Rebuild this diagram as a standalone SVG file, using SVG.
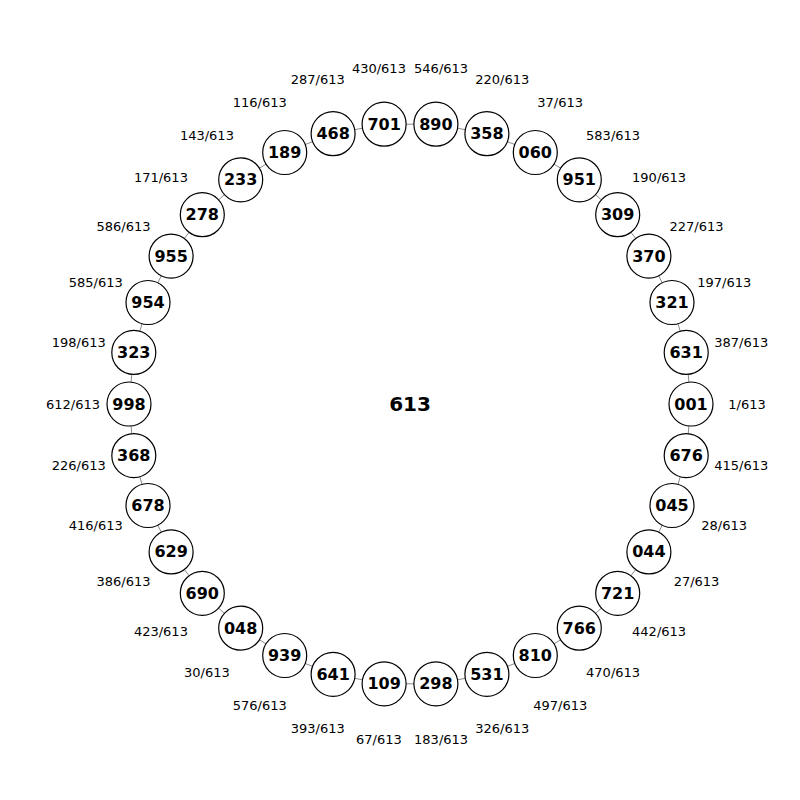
<svg xmlns="http://www.w3.org/2000/svg" width="800" height="800" viewBox="0 0 800 800">
<style>
.n circle{fill:#fff;stroke:#000;stroke-width:1.2}
.n text{font-family:"DejaVu Sans",sans-serif;font-weight:bold;font-size:16px;text-anchor:middle;dominant-baseline:central;fill:#000}
.lb{font-family:"DejaVu Sans",sans-serif;font-size:13px;text-anchor:middle;dominant-baseline:central;fill:#000}
.ctr{font-family:"DejaVu Sans",sans-serif;font-weight:bold;font-size:20px;text-anchor:middle;dominant-baseline:central;fill:#000}
.edge{fill:none;stroke:#888;stroke-width:1}
</style>
<rect width="800" height="800" fill="#fff"/>
<g id="connectors">
<polygon class="edge" points="691,404 686.2,455.6 672,505.5 648.9,551.9 617.7,593.3 579.3,628.2 535.3,655.5 486.9,674.3 435.9,683.8 384.1,683.8 333.1,674.3 284.7,655.5 240.7,628.2 202.3,593.3 171.1,551.9 148,505.5 133.8,455.6 129,404 133.8,352.4 148,302.5 171.1,256.1 202.3,214.7 240.7,179.8 284.7,152.5 333.1,133.7 384.1,124.2 435.9,124.2 486.9,133.7 535.3,152.5 579.3,179.8 617.7,214.7 648.9,256.1 672,302.5 686.2,352.4"/>
</g>
<g id="n001" class="n"><circle cx="691" cy="404" r="22"/><text x="691" y="404">001</text></g>
<g id="n676" class="n"><circle cx="686.2" cy="455.6" r="22"/><text x="686.2" y="455.6">676</text></g>
<g id="n045" class="n"><circle cx="672" cy="505.5" r="22"/><text x="672" y="505.5">045</text></g>
<g id="n044" class="n"><circle cx="648.9" cy="551.9" r="22"/><text x="648.9" y="551.9">044</text></g>
<g id="n721" class="n"><circle cx="617.7" cy="593.3" r="22"/><text x="617.7" y="593.3">721</text></g>
<g id="n766" class="n"><circle cx="579.3" cy="628.2" r="22"/><text x="579.3" y="628.2">766</text></g>
<g id="n810" class="n"><circle cx="535.3" cy="655.5" r="22"/><text x="535.3" y="655.5">810</text></g>
<g id="n531" class="n"><circle cx="486.9" cy="674.3" r="22"/><text x="486.9" y="674.3">531</text></g>
<g id="n298" class="n"><circle cx="435.9" cy="683.8" r="22"/><text x="435.9" y="683.8">298</text></g>
<g id="n109" class="n"><circle cx="384.1" cy="683.8" r="22"/><text x="384.1" y="683.8">109</text></g>
<g id="n641" class="n"><circle cx="333.1" cy="674.3" r="22"/><text x="333.1" y="674.3">641</text></g>
<g id="n939" class="n"><circle cx="284.7" cy="655.5" r="22"/><text x="284.7" y="655.5">939</text></g>
<g id="n048" class="n"><circle cx="240.7" cy="628.2" r="22"/><text x="240.7" y="628.2">048</text></g>
<g id="n690" class="n"><circle cx="202.3" cy="593.3" r="22"/><text x="202.3" y="593.3">690</text></g>
<g id="n629" class="n"><circle cx="171.1" cy="551.9" r="22"/><text x="171.1" y="551.9">629</text></g>
<g id="n678" class="n"><circle cx="148" cy="505.5" r="22"/><text x="148" y="505.5">678</text></g>
<g id="n368" class="n"><circle cx="133.8" cy="455.6" r="22"/><text x="133.8" y="455.6">368</text></g>
<g id="n998" class="n"><circle cx="129" cy="404" r="22"/><text x="129" y="404">998</text></g>
<g id="n323" class="n"><circle cx="133.8" cy="352.4" r="22"/><text x="133.8" y="352.4">323</text></g>
<g id="n954" class="n"><circle cx="148" cy="302.5" r="22"/><text x="148" y="302.5">954</text></g>
<g id="n955" class="n"><circle cx="171.1" cy="256.1" r="22"/><text x="171.1" y="256.1">955</text></g>
<g id="n278" class="n"><circle cx="202.3" cy="214.7" r="22"/><text x="202.3" y="214.7">278</text></g>
<g id="n233" class="n"><circle cx="240.7" cy="179.8" r="22"/><text x="240.7" y="179.8">233</text></g>
<g id="n189" class="n"><circle cx="284.7" cy="152.5" r="22"/><text x="284.7" y="152.5">189</text></g>
<g id="n468" class="n"><circle cx="333.1" cy="133.7" r="22"/><text x="333.1" y="133.7">468</text></g>
<g id="n701" class="n"><circle cx="384.1" cy="124.2" r="22"/><text x="384.1" y="124.2">701</text></g>
<g id="n890" class="n"><circle cx="435.9" cy="124.2" r="22"/><text x="435.9" y="124.2">890</text></g>
<g id="n358" class="n"><circle cx="486.9" cy="133.7" r="22"/><text x="486.9" y="133.7">358</text></g>
<g id="n060" class="n"><circle cx="535.3" cy="152.5" r="22"/><text x="535.3" y="152.5">060</text></g>
<g id="n951" class="n"><circle cx="579.3" cy="179.8" r="22"/><text x="579.3" y="179.8">951</text></g>
<g id="n309" class="n"><circle cx="617.7" cy="214.7" r="22"/><text x="617.7" y="214.7">309</text></g>
<g id="n370" class="n"><circle cx="648.9" cy="256.1" r="22"/><text x="648.9" y="256.1">370</text></g>
<g id="n321" class="n"><circle cx="672" cy="302.5" r="22"/><text x="672" y="302.5">321</text></g>
<g id="n631" class="n"><circle cx="686.2" cy="352.4" r="22"/><text x="686.2" y="352.4">631</text></g>
<g id="labels">
<text class="lb" x="747" y="404">1/613</text>
<text class="lb" x="741.3" y="465.9">415/613</text>
<text class="lb" x="724.2" y="525.7">28/613</text>
<text class="lb" x="696.5" y="581.4">27/613</text>
<text class="lb" x="659.1" y="631">442/613</text>
<text class="lb" x="613.1" y="672.9">470/613</text>
<text class="lb" x="560.2" y="705.7">497/613</text>
<text class="lb" x="502.2" y="728.1">326/613</text>
<text class="lb" x="441.1" y="739.6">183/613</text>
<text class="lb" x="378.9" y="739.6">67/613</text>
<text class="lb" x="317.8" y="728.1">393/613</text>
<text class="lb" x="259.8" y="705.7">576/613</text>
<text class="lb" x="206.9" y="672.9">30/613</text>
<text class="lb" x="160.9" y="631">423/613</text>
<text class="lb" x="123.5" y="581.4">386/613</text>
<text class="lb" x="95.8" y="525.7">416/613</text>
<text class="lb" x="78.7" y="465.9">226/613</text>
<text class="lb" x="73" y="404">612/613</text>
<text class="lb" x="78.7" y="342.1">198/613</text>
<text class="lb" x="95.8" y="282.3">585/613</text>
<text class="lb" x="123.5" y="226.6">586/613</text>
<text class="lb" x="160.9" y="177">171/613</text>
<text class="lb" x="206.9" y="135.1">143/613</text>
<text class="lb" x="259.8" y="102.3">116/613</text>
<text class="lb" x="317.8" y="79.9">287/613</text>
<text class="lb" x="378.9" y="68.4">430/613</text>
<text class="lb" x="441.1" y="68.4">546/613</text>
<text class="lb" x="502.2" y="79.9">220/613</text>
<text class="lb" x="560.2" y="102.3">37/613</text>
<text class="lb" x="613.1" y="135.1">583/613</text>
<text class="lb" x="659.1" y="177">190/613</text>
<text class="lb" x="696.5" y="226.6">227/613</text>
<text class="lb" x="724.2" y="282.3">197/613</text>
<text class="lb" x="741.3" y="342.1">387/613</text>
</g>
<text class="ctr" x="410" y="404">613</text>
</svg>
